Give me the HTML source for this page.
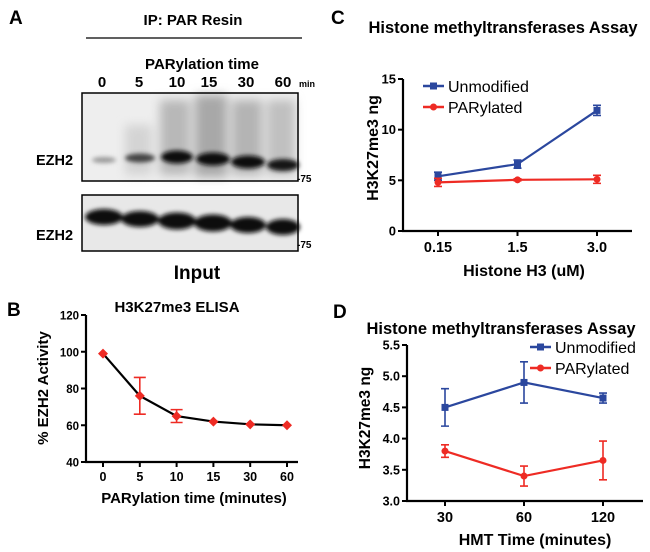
<!DOCTYPE html>
<html><head><meta charset="utf-8"><style>
body{margin:0;background:#fff;}
svg{display:block;font-family:"Liberation Sans",Arial,sans-serif;font-weight:bold;}
</style></head><body>
<svg width="650" height="552" viewBox="0 0 650 552">
<defs>
<filter id="blur2" x="-30%" y="-80%" width="160%" height="260%"><feGaussianBlur stdDeviation="2.2"/></filter>
<filter id="blur6" x="-50%" y="-50%" width="200%" height="200%"><feGaussianBlur stdDeviation="5"/></filter>
</defs>
<g>
<text x="9" y="24" font-size="19">A</text>
<text x="193" y="25" font-size="15" text-anchor="middle">IP: PAR Resin</text>
<line x1="86" y1="38" x2="302" y2="38" stroke="#000" stroke-width="1.3"/>
<text x="202" y="69" font-size="15" text-anchor="middle">PARylation time</text>
<g font-size="15" text-anchor="middle">
<text x="102" y="87">0</text><text x="139" y="87">5</text><text x="177" y="87">10</text><text x="209" y="87">15</text><text x="246" y="87">30</text><text x="283" y="87">60</text>
</g>
<text x="299" y="87" font-size="9">min</text>
<g>
<rect x="82" y="93" width="216" height="88" fill="#eeeeee"/>
<g filter="url(#blur6)">
<rect x="160" y="100" width="30" height="75" fill="#b8b8b8"/>
<rect x="195" y="95" width="32" height="82" fill="#a8a8a8"/>
<rect x="232" y="100" width="30" height="75" fill="#b4b4b4"/>
<rect x="267" y="100" width="28" height="75" fill="#c0c0c0"/>
<rect x="125" y="125" width="27" height="50" fill="#d4d4d4"/>
</g>
<g filter="url(#blur2)">
<ellipse cx="104" cy="160" rx="12" ry="3" fill="#999"/>
<ellipse cx="140" cy="158" rx="15" ry="4.5" fill="#444"/>
<ellipse cx="177" cy="157" rx="16" ry="6.5" fill="#111"/>
<ellipse cx="213" cy="159" rx="17" ry="6.5" fill="#111"/>
<ellipse cx="248" cy="162" rx="17" ry="6.5" fill="#111"/>
<ellipse cx="283" cy="165" rx="16" ry="6" fill="#161616"/>
</g>
<rect x="82" y="93" width="216" height="88" fill="none" stroke="#000" stroke-width="1.5"/>
</g>
<text x="36" y="165" font-size="14.5">EZH2</text>
<text x="297" y="182" font-size="10">-75</text>
<g>
<rect x="82" y="195" width="216" height="56" fill="#e8e8e8"/>
<g filter="url(#blur2)" fill="#111">
<ellipse cx="104" cy="217" rx="19" ry="8"/>
<ellipse cx="140" cy="219" rx="19" ry="8"/>
<ellipse cx="177" cy="221" rx="19" ry="8.5"/>
<ellipse cx="213" cy="223" rx="19" ry="8.5"/>
<ellipse cx="248" cy="225" rx="18" ry="8"/>
<ellipse cx="283" cy="227" rx="17" ry="8"/>
</g>
<rect x="82" y="195" width="216" height="56" fill="none" stroke="#000" stroke-width="1.5"/>
</g>
<text x="36" y="240" font-size="14.5">EZH2</text>
<text x="297" y="248" font-size="10">-75</text>
<text x="197" y="279" font-size="19" text-anchor="middle">Input</text>
</g>
<text x="7" y="316" font-size="19">B</text>
<text x="177" y="312" font-size="15" text-anchor="middle">H3K27me3 ELISA</text>
<g id="chartB"></g>
<text x="331" y="24" font-size="19">C</text>
<text x="503" y="33" font-size="16.5" text-anchor="middle">Histone methyltransferases Assay</text>
<g id="chartC"></g>
<text x="333" y="318" font-size="19">D</text>
<text x="501" y="334" font-size="16.5" text-anchor="middle">Histone methyltransferases Assay</text>
<g id="chartD"></g>
</svg>
<script>
const NS="http://www.w3.org/2000/svg";
// Chart B data
const bCategories=["0","5","10","15","30","60"];
const bValues=[99,76,65,62,60.5,60];
const bErrors=[0,10,3.5,0,0,0];
const bTicks=[40,60,80,100,120];
// Chart C data
const cCategories=["0.15","1.5","3.0"];
const cUnmod=[5.4,6.6,11.9];
const cUnmodErr=[0.4,0.4,0.5];
const cPar=[4.8,5.05,5.1];
const cParErr=[0.4,0.1,0.4];
const cTicks=[0,5,10,15];
// Chart D data
const dCategories=["30","60","120"];
const dUnmod=[4.5,4.9,4.65];
const dUnmodErr=[0.3,0.33,0.08];
const dPar=[3.8,3.4,3.65];
const dParErr=[0.1,0.16,0.31];
const dTicks=["3.0","3.5","4.0","4.5","5.0","5.5"];

const BLUE="#2b479e",RED="#ee2b24";
function mk(parent,tag,attrs){const e=document.createElementNS(NS,tag);for(const k in attrs)e.setAttribute(k,attrs[k]);parent.appendChild(e);return e;}

function axes(g,o){
  const ax=mk(g,'g',{});
  
  
  mk(ax,'line',{x1:o.x0,y1:o.yTop,x2:o.x0,y2:o.yBot,stroke:'#000','stroke-width':2.2});
  o.ticks.forEach(t=>{const y=o.ys(+t);
    mk(ax,'line',{x1:o.x0-5,y1:y,x2:o.x0,y2:y,stroke:'#000','stroke-width':2});
    const tx=mk(ax,'text',{x:o.x0-7,y:y+4.5,'font-size':o.fs,'text-anchor':'end'});tx.textContent=t;
    
    });
  const xa=mk(g,'g',{});
  
  
  mk(xa,'line',{x1:o.x0-1,y1:o.yBot,x2:o.x1,y2:o.yBot,stroke:'#000','stroke-width':2.2});
  o.cats.forEach((c,i)=>{const x=o.xs(i);
    mk(xa,'line',{x1:x,y1:o.yBot,x2:x,y2:o.yBot+5,stroke:'#000','stroke-width':2});
    const tx=mk(xa,'text',{x:x,y:o.yBot+o.tickDy,'font-size':o.fs2,'text-anchor':'middle'});tx.textContent=c;
    
    });
  const xl=mk(g,'text',{x:o.xlX,y:o.xlY,'font-size':o.xlFs,'text-anchor':'middle'});xl.textContent=o.xl;
  
  
  const yl=mk(g,'text',{x:0,y:0,'font-size':o.ylFs,'text-anchor':'middle',transform:`translate(${o.ylX},${o.ylY}) rotate(-90)`});yl.textContent=o.yl;
  
  
}
function series(g,name,vals,errs,xs,ys,color,marker,lineColor,cap){
  const s=mk(g,'g',{});
  
  
  mk(s,'polyline',{points:vals.map((v,i)=>xs(i)+','+ys(v)).join(' '),fill:'none',stroke:lineColor,'stroke-width':2.2});
  vals.forEach((v,i)=>{const x=xs(i);
    if(errs[i]>0){const e=mk(s,'path',{d:`M${x},${ys(v-errs[i])}V${ys(v+errs[i])}M${x-cap},${ys(v-errs[i])}h${2*cap}M${x-cap},${ys(v+errs[i])}h${2*cap}`,stroke:color,'stroke-width':1.6,fill:'none'});
      
      }
    let m;
    if(marker==='diamond')m=mk(s,'path',{d:`M${x},${ys(v)-5}l5,5l-5,5l-5,-5z`,fill:color});
    else if(marker==='square')m=mk(s,'rect',{x:x-3.5,y:ys(v)-3.5,width:7,height:7,fill:color});
    else m=mk(s,'circle',{cx:x,cy:ys(v),r:3.5,fill:color});
    
    
  });
}
function legend(g,x,y,label,color,marker){
  const l=mk(g,'g',{});
  
  
  mk(l,'line',{x1:x,y1:y,x2:x+21,y2:y,stroke:color,'stroke-width':2.5});
  if(marker==='square')mk(l,'rect',{x:x+7,y:y-3.5,width:7,height:7,fill:color});else mk(l,'circle',{cx:x+10.5,cy:y,r:3.5,fill:color});
  const t=mk(l,'text',{x:x+25,y:y+6,'font-size':16,'font-weight':'normal'});t.textContent=label;
}
// B
(function(){const g=document.getElementById('chartB');
  const ys=v=>462-(v-40)*(147/80), xs=i=>103+i*36.8;
  axes(g,{x0:86,x1:298,yTop:315,yBot:462,ys,xs,ticks:bTicks,cats:bCategories,fs:11.5,fs2:12.5,tickDy:19,xl:'PARylation time (minutes)',xlX:194,xlY:503,xlFs:15,yl:'% EZH2 Activity',ylX:48,ylY:388,ylFs:15});
  series(g,'elisa-series',bValues,bErrors,xs,ys,RED,'diamond','#000',6);
})();
// C
(function(){const g=document.getElementById('chartC');
  const ys=v=>231-v*(152/15), xs=i=>438+i*79.5;
  axes(g,{x0:403,x1:632,yTop:79,yBot:231,ys,xs,ticks:cTicks,fs:13,fs2:14.5,tickDy:21,cats:cCategories,xl:'Histone H3 (uM)',xlX:524,xlY:276,xlFs:16,yl:'H3K27me3 ng',ylX:378,ylY:148,ylFs:16});
  series(g,'unmodified-series',cUnmod,cUnmodErr,xs,ys,BLUE,'square',BLUE,4);
  series(g,'parylated-series',cPar,cParErr,xs,ys,RED,'circle',RED,4);
  legend(g,423,86,'Unmodified',BLUE,'square');
  legend(g,423,107,'PARylated',RED,'circle');
})();
// D
(function(){const g=document.getElementById('chartD');
  const ys=v=>501-(v-3)*(156/2.5), xs=i=>445+i*79;
  axes(g,{x0:407,x1:643,yTop:345,yBot:501,ys,xs,ticks:dTicks,fs:12.5,fs2:14.5,tickDy:21,cats:dCategories,xl:'HMT Time (minutes)',xlX:535,xlY:545,xlFs:16,yl:'H3K27me3 ng',ylX:370,ylY:418,ylFs:15.5});
  series(g,'unmodified-series',dUnmod,dUnmodErr,xs,ys,BLUE,'square',BLUE,4);
  series(g,'parylated-series',dPar,dParErr,xs,ys,RED,'circle',RED,4);
  legend(g,530,347,'Unmodified',BLUE,'square');
  legend(g,530,368,'PARylated',RED,'circle');
})();
</script>
</body></html>
